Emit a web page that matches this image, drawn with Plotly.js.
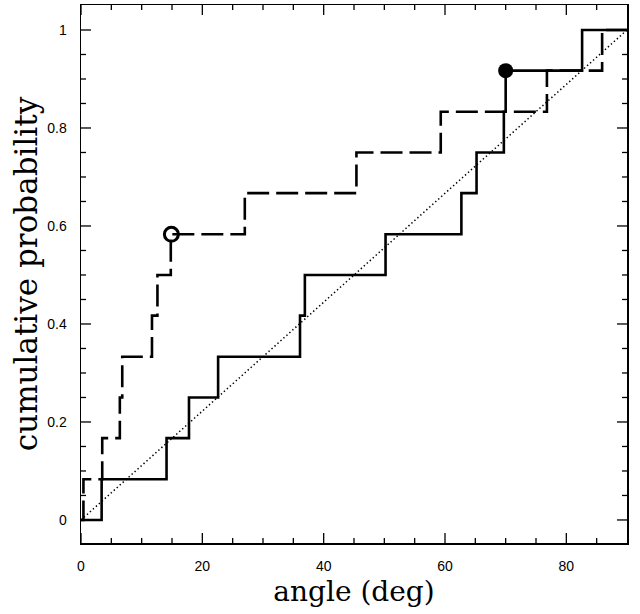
<!DOCTYPE html>
<html>
<head>
<meta charset="utf-8">
<script src="https://cdn.plot.ly/plotly-3.0.1.min.js"></script>
<style>html,body{margin:0;padding:0;background:#fff;}#chart{width:640px;height:614px;}</style>
</head>
<body>
<div id="chart"></div>
<script>
// Solid step curve (empirical cumulative distribution)
var solidX = [0, 3.4, 14.1, 17.8, 22.6, 36.1, 36.9, 50.2, 62.7, 65.2, 69.7, 70.0, 82.6, 90];
var solidY = [0, 0.083, 0.167, 0.25, 0.333, 0.417, 0.5, 0.583, 0.667, 0.75, 0.833, 0.917, 1, 1];

// Dashed step curve
var dashX = [0, 0.4, 3.5, 6.4, 6.8, 11.7, 12.6, 14.8, 27.0, 45.4, 59.3, 76.8, 85.9, 90];
var dashY = [0, 0.083, 0.167, 0.25, 0.333, 0.417, 0.5, 0.583, 0.667, 0.75, 0.833, 0.917, 1, 1];

// Uniform reference (dotted diagonal)
var uniformX = [0, 90];
var uniformY = [0, 1];

// Highlighted points
var filledPtX = [70.0], filledPtY = [0.917];
var openPtX = [14.9], openPtY = [0.583];

// Tick positions
var xMajorTicks = [0, 20, 40, 60, 80];
var xMinorTicks = [5, 10, 15, 25, 30, 35, 45, 50, 55, 65, 70, 75, 85];
var yMajorTicks = [0, 0.2, 0.4, 0.6, 0.8, 1];
var yMinorTicks = [0.05, 0.1, 0.15, 0.25, 0.3, 0.35, 0.45, 0.5, 0.55, 0.65, 0.7, 0.75, 0.85, 0.9, 0.95];

var xTitle = 'angle (deg)';
var yTitle = 'cumulative probability';

var W = 640, H = 614;
var M = {l: 81, r: 13, t: 5, b: 71};
var xRange = [0, 90], yRange = [-0.047, 1.051];

// Inside tick marks on all four sides, drawn as line segments through the axis scales
var xPerPx = (xRange[1] - xRange[0]) / (W - M.l - M.r);
var yPerPx = (yRange[1] - yRange[0]) / (H - M.t - M.b);
var tickX = [], tickY = [];
function addXTick(v, len) {
  tickX.push(v, v, null, v, v, null);
  tickY.push(yRange[0], yRange[0] + len * yPerPx, null, yRange[1], yRange[1] - len * yPerPx, null);
}
function addYTick(v, len) {
  tickX.push(xRange[0], xRange[0] + len * xPerPx, null, xRange[1], xRange[1] - len * xPerPx, null);
  tickY.push(v, v, null, v, v, null);
}
xMajorTicks.forEach(function (v) { addXTick(v, 10); });
xMinorTicks.forEach(function (v) { addXTick(v, 5); });
yMajorTicks.forEach(function (v) { addYTick(v, 10); });
yMinorTicks.forEach(function (v) { addYTick(v, 5); });

var traces = [
  {x: tickX, y: tickY, mode: 'lines', line: {color: '#000', width: 1.3}, connectgaps: false, cliponaxis: false, hoverinfo: 'skip'},
  {x: uniformX, y: uniformY, mode: 'lines', line: {color: '#000', width: 1.5, dash: '1.4px,2.6px'}, hoverinfo: 'skip'},
  {x: dashX, y: dashY, mode: 'lines', line: {shape: 'hv', color: '#000', width: 2.6, dash: '22px,7px'}},
  {x: solidX, y: solidY, mode: 'lines', line: {shape: 'hv', color: '#000', width: 2.6}},
  {x: filledPtX, y: filledPtY, mode: 'markers', marker: {symbol: 'circle', size: 15, color: '#000'}},
  {x: openPtX, y: openPtY, mode: 'markers', marker: {symbol: 'circle-open', size: 14, color: '#000', line: {width: 3, color: '#000'}}}
];

var tickFont = {family: 'Liberation Sans, Arial, sans-serif', size: 14, color: '#000'};

var layout = {
  width: W, height: H,
  margin: M,
  paper_bgcolor: '#fff', plot_bgcolor: '#fff',
  showlegend: false,
  xaxis: {
    range: xRange, tickmode: 'array', tickvals: xMajorTicks, ticks: '',
    showgrid: false, zeroline: false, showline: true, linecolor: '#000', linewidth: 1.5, mirror: true,
    tickfont: tickFont, ticklabelstandoff: 10,
    title: {text: xTitle, font: {family: 'DejaVu Serif, serif', size: 28, color: '#000'}, standoff: 8}
  },
  yaxis: {
    range: yRange, tickmode: 'array', tickvals: yMajorTicks, ticks: '',
    showgrid: false, zeroline: false, showline: true, linecolor: '#000', linewidth: 1.5, mirror: true,
    tickfont: tickFont, ticklabelstandoff: 10,
    title: {text: yTitle, font: {family: 'DejaVu Serif, serif', size: 31, color: '#000'}, standoff: 0}
  }
};

Plotly.newPlot('chart', traces, layout, {staticPlot: true, displayModeBar: false});
</script>
</body>
</html>
